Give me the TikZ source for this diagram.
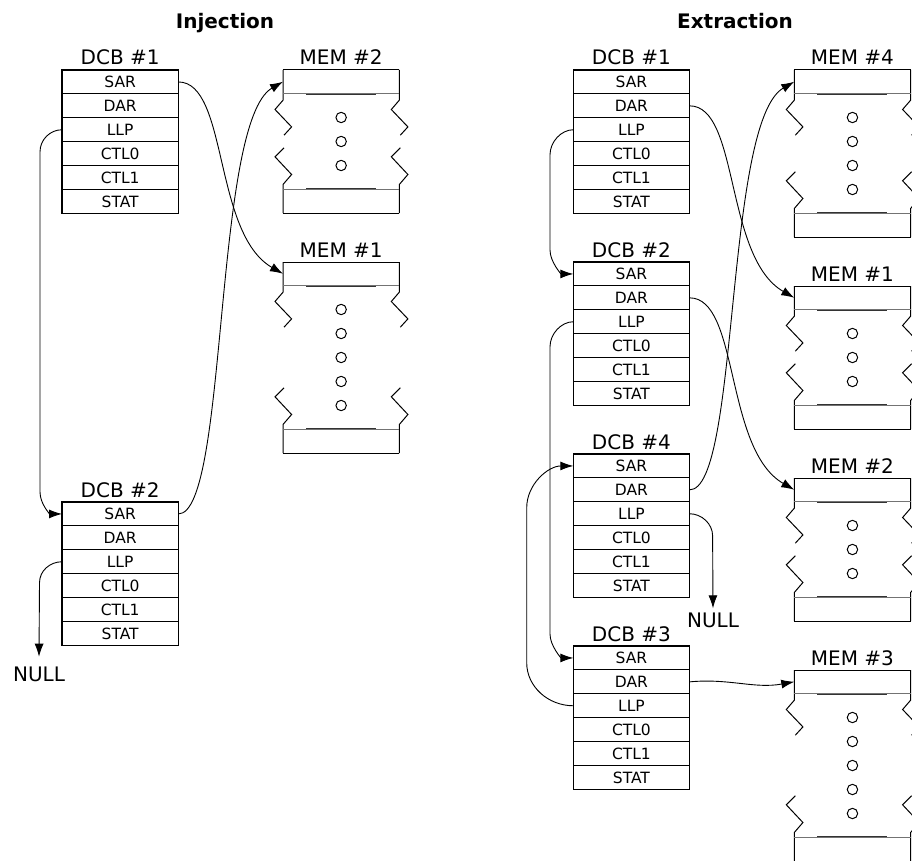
\documentclass[tikz,border=0pt]{standalone}
\usepackage{fontspec}
\newfontfamily\dvs{DejaVu Sans}
\usetikzlibrary{arrows.meta,calc}
\tikzset{
  rowbox/.style={draw, line width=1.1pt, rectangle, minimum width=116.3pt, minimum height=23.9pt,
    inner sep=0pt, outer sep=0pt, text height=11.2pt, text depth=0pt, font=\dvs\fontsize{15.5}{17}\selectfont},
  ttl/.style={inner sep=0pt, font=\dvs\fontsize{20}{23}\selectfont},
  sect/.style={inner sep=0pt, font=\dvs\bfseries\fontsize{20}{24}\selectfont},
  memhead/.style={rectangle, minimum width=116.3pt, minimum height=23.5pt, inner sep=0pt, outer sep=0pt},
  thinline/.style={line width=1pt, black},
  sepline/.style={line width=0.7pt, black!55},
  shortline/.style={line width=1pt, black!80},
  conn/.style={line width=0.9pt, black},
  arr/.style={conn, -{Latex[length=13pt,width=9pt]}}
}
\newcommand\dcbblock[4]{%
  \node[ttl, anchor=base] (#1-t) at ({#2+58.15},{#3-5}) {#4};
  \foreach \lab/\nm [count=\i from 0] in {SAR/sar,DAR/dar,LLP/llp,CTL0/ctl0,CTL1/ctl1,STAT/stat}
    \node[rowbox, anchor=north west] (#1-\nm) at ({#2},{#3+\i*23.9}) {\lab};
}
\newcommand\memblock[5]{%
  \pgfmathsetmacro\mX{#2}%
  \pgfmathsetmacro\mT{#3}%
  \pgfmathsetmacro\mH{#3+23.5}%
  \pgfmathsetmacro\mB{#3+23.5+(#4+1)*24}%
  \pgfmathsetmacro\mE{\mB+23.5}%
  \node[memhead, anchor=north west] (#1) at (\mX,\mT) {};
  \node[ttl, anchor=base] (#1-t) at ({\mX+58.15},{\mT-5}) {#5};
  \draw[thinline] (\mX,\mT) -- ({\mX+116.3},\mT);
  \foreach \xx in {\mX, \mX+116.3} {
    \draw[thinline] (\xx,\mT) -- (\xx,{\mH+6.7}) -- ({\xx-8},{\mH+16}) -- ({\xx+8.6},{\mH+33.4}) -- ({\xx+1},{\mH+41.7});
    \draw[thinline] ({\xx+1},{\mB-41.7}) -- ({\xx-8},{\mB-32.7}) -- ({\xx+8.6},{\mB-15}) -- (\xx,{\mB-5}) -- (\xx,\mE);
  }
  \draw[thinline] (\mX,\mE) -- ({\mX+116.3},\mE);
  \draw[sepline] (\mX,\mH) -- ({\mX+116.3},\mH);
  \draw[sepline] (\mX,\mB) -- ({\mX+116.3},\mB);
  \draw[shortline] ({\mX+23},{\mH+0.8}) -- ({\mX+93},{\mH+0.8});
  \draw[shortline] ({\mX+23},{\mB-0.8}) -- ({\mX+93},{\mB-0.8});
  \foreach \k in {1,...,#4} \draw[thinline] ({\mX+58.15},{\mH+\k*24}) circle[radius=5.2pt];
}
\begin{document}
\begin{tikzpicture}[x=1pt,y=-1pt]
\useasboundingbox (0,0) rectangle (912,861);
\clip (0,0) rectangle (912,861);

% section titles
\node[sect, anchor=base] (injt) at (225,28.3) {Injection};
\node[sect, anchor=base] (extt) at (735,28.3) {Extraction};

% ---------- Injection ----------
\dcbblock{d1i}{62}{70}{DCB \#1}
\dcbblock{d2i}{62}{502}{DCB \#2}
\memblock{m2i}{283}{70}{3}{MEM \#2}
\memblock{m1i}{283}{262}{5}{MEM \#1}
\node[ttl, anchor=base] (nulli) at (39,681.7) {NULL};

\draw[arr] (d1i-llp.west) .. controls +(-12,0) and +(0,-12) .. ++(-22,22)
  -- ($(d2i-sar.west)+(-22,-22)$) .. controls +(0,12) and +(-12,0) .. (d2i-sar.west);
\draw[arr] (d2i-llp.west) .. controls +(-12,0) and +(0,-12) .. ++(-22.5,21)
  -- ($(nulli.base)+(0,-25)$);
\draw[arr] (d1i-sar.east) .. controls +(50,0) and +(-70,-40) .. (m1i.west);
\draw[arr] (d2i-sar.east) .. controls +(50,0) and +(-70,40) .. (m2i.west);

% ---------- Extraction ----------
\dcbblock{d1e}{573.3}{70}{DCB \#1}
\dcbblock{d2e}{573.3}{262}{DCB \#2}
\dcbblock{d4e}{573.3}{454}{DCB \#4}
\dcbblock{d3e}{573.3}{646}{DCB \#3}
\memblock{m4e}{794.3}{70}{4}{MEM \#4}
\memblock{m1e}{794.3}{286}{3}{MEM \#1}
\memblock{m2e}{794.3}{478}{3}{MEM \#2}
\memblock{m3e}{794.3}{670}{5}{MEM \#3}
\node[ttl, anchor=base] (nulle) at (713,627) {NULL};

\draw[arr] (d1e-llp.west) .. controls +(-12,0) and +(0,-13) .. ++(-23.3,25)
  -- ($(d2e-sar.west)+(-23.3,-24)$) .. controls +(0,12) and +(-12,0) .. (d2e-sar.west);
\draw[arr] (d2e-llp.west) .. controls +(-12,0) and +(0,-13) .. ++(-23.3,25)
  -- ($(d3e-sar.west)+(-23.3,-24)$) .. controls +(0,12) and +(-12,0) .. (d3e-sar.west);
\draw[arr] (d3e-llp.west) .. controls +(-25,0) and +(0,24) .. ++(-46.6,-43)
  -- ($(d4e-sar.west)+(-46.6,42)$) .. controls +(0,-24) and +(-25,0) .. (d4e-sar.west);
\draw[arr] (d4e-llp.east) .. controls +(12,0) and +(0,-12) .. ++(23,22)
  -- ($(nulle.base)+(0,-18.7)$);

\draw[arr] (d1e-dar.east) .. controls +(50,0) and +(-70,-40) .. (m1e.west);
\draw[arr] (d2e-dar.east) .. controls +(50,0) and +(-70,-40) .. (m2e.west);
\draw[arr] (d4e-dar.east) .. controls +(50,0) and +(-70,40) .. (m4e.west);
\draw[arr] (d3e-dar.east) .. controls +(40,-3.7) and +(-40,7.3) .. (m3e.west);
\end{tikzpicture}
\end{document}
